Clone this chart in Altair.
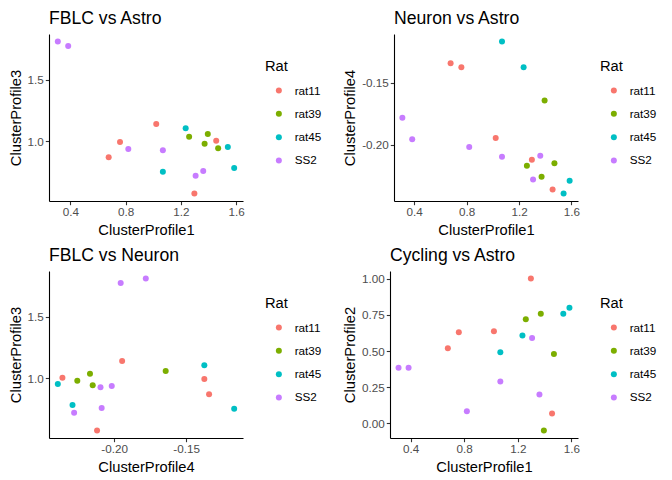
import altair as alt
import pandas as pd

# one row per sample
rat = ["SS2"] * 6 + ["rat11"] * 5 + ["rat39"] * 4 + ["rat45"] * 4
cp1 = [0.31, 0.385, 0.82, 1.07, 1.362, 1.307,
       1.022, 0.76, 0.678, 1.456, 1.298,
       1.26, 1.395, 1.372, 1.47,
       1.07, 1.235, 1.54, 1.586]
cp2 = [0.384, 0.384, 0.085, 0.290, 0.200, 0.590,
       0.636, 0.629, 0.519, 0.069, 1.00,
       0.719, -0.048, 0.758, 0.479,
       0.491, 0.608, 0.758, 0.799]
cp3 = [1.808, 1.773, 0.938, 0.927, 0.759, 0.722,
       1.141, 0.995, 0.870, 1.005, 0.578,
       1.038, 1.059, 0.981, 0.943,
       0.754, 1.105, 0.954, 0.784]
cp4 = [-0.178, -0.1954, -0.2016, -0.2094, -0.2086, -0.2277,
       -0.1944, -0.1374, -0.1341, -0.2358, -0.2118,
       -0.2167, -0.1642, -0.2255, -0.2148,
       -0.1167, -0.1374, -0.239, -0.2288]

rats = ["rat11", "rat39", "rat45", "SS2"]
farben = ["#F8766D", "#7CAE00", "#00BFC4", "#C77CFF"]

ticks = {
    "ClusterProfile1": ([0.4, 0.8, 1.2, 1.6], ".1f"),
    "ClusterProfile2": ([0, 0.25, 0.5, 0.75, 1.0], ".2f"),
    "ClusterProfile3": ([1.0, 1.5], ".1f"),
    "ClusterProfile4": ([-0.20, -0.15], ".2f"),
}

df = pd.DataFrame({"Rat": rat, "ClusterProfile1": cp1, "ClusterProfile2": cp2,
                   "ClusterProfile3": cp3, "ClusterProfile4": cp4})

FONT = "Liberation Sans"


def dom(col):
    lo, hi = df[col].min(), df[col].max()
    pad = (hi - lo) * 0.05
    return [lo - pad, hi + pad]


def achse(col):
    werte, fmt = ticks[col]
    return alt.Axis(values=werte,
                    labelExpr="replace(format(datum.value, '%s'), '\u2212', '-')" % fmt)


def panel(xcol, ycol, titel, w):
    return alt.Chart(df).mark_circle(size=36, opacity=1).encode(
        x=alt.X(xcol, type="quantitative", scale=alt.Scale(domain=dom(xcol), nice=False, zero=False),
                axis=achse(xcol)),
        y=alt.Y(ycol, type="quantitative", scale=alt.Scale(domain=dom(ycol), nice=False, zero=False),
                axis=achse(ycol)),
        color=alt.Color("Rat:N", scale=alt.Scale(domain=rats, range=farben),
                        legend=alt.Legend(orient="none", legendX=w + 22, legendY=25, padding=0,
                                          symbolSize=36, symbolOffset=8, labelOffset=10,
                                          rowPadding=10.3, titlePadding=11)),
    ).properties(
        width=w, height=167,
        title=alt.TitleParams(titel, anchor="start", frame="group", offset=6),
    )


p1 = panel("ClusterProfile1", "ClusterProfile3", "FBLC vs Astro", 194)
p2 = panel("ClusterProfile1", "ClusterProfile4", "Neuron vs Astro", 184)
p3 = panel("ClusterProfile4", "ClusterProfile3", "FBLC vs Neuron", 194)
p4 = panel("ClusterProfile1", "ClusterProfile2", "Cycling vs Astro", 188)

oben = alt.hconcat(p1, p2, spacing=20).resolve_scale(color="independent")
unten = alt.hconcat(p3, p4, spacing=20).resolve_scale(color="independent")

chart = alt.vconcat(oben, unten, spacing=9).resolve_scale(color="independent").properties(
    padding={"left": 0, "top": 2, "right": 0, "bottom": 0}, background="white"
).configure_view(stroke=None).configure_axis(
    grid=False, domainColor="black", domainWidth=1.1, tickColor="#333333", tickSize=3.7,
    tickWidth=1.1, labelFont=FONT, labelFontSize=11.7, labelColor="#4D4D4D", labelPadding=2,
    titleFont=FONT, titleFontSize=14.7, titleFontWeight="normal", titleColor="black",
    titlePadding=4,
).configure_title(
    font=FONT, fontSize=17.6, fontWeight="normal", color="black",
).configure_legend(
    titleFont=FONT, titleFontSize=14.7, titleFontWeight="normal", titleColor="black",
    labelFont=FONT, labelFontSize=11.7, labelColor="black",
)

chart.save("out.html", embed_options={"renderer": "svg", "actions": False})
